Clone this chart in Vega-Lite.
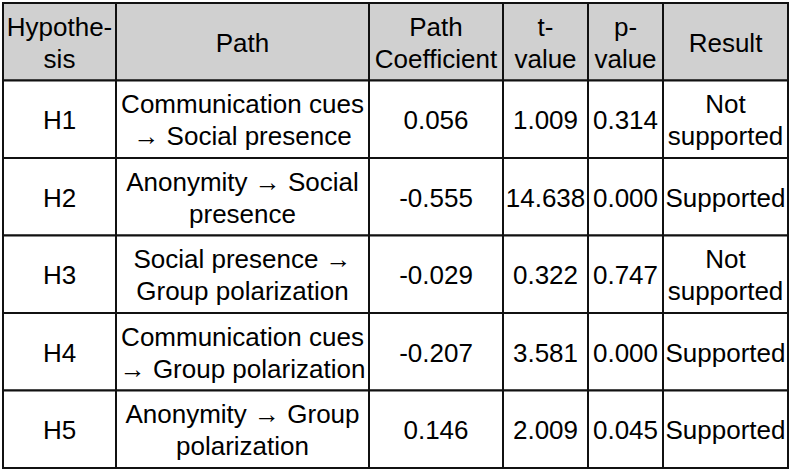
{
  "$schema": "https://vega.github.io/schema/vega-lite/v6.json",
  "padding": {"left": 2, "top": 2, "right": 0, "bottom": 0},
  "background": "white",
  "spacing": 0,
  "bounds": "flush",
  "datasets": {
    "cells": [
      {"row": 0, "col": "hyp", "kind": "header", "l1": "Hypothe-", "l2": "sis"},
      {"row": 0, "col": "path", "kind": "header", "l1": "Path", "l2": null},
      {"row": 0, "col": "coef", "kind": "header", "l1": "Path", "l2": "Coefficient"},
      {"row": 0, "col": "t", "kind": "header", "l1": "t-", "l2": "value"},
      {"row": 0, "col": "p", "kind": "header", "l1": "p-", "l2": "value"},
      {"row": 0, "col": "result", "kind": "header", "l1": "Result", "l2": null},

      {"row": 1, "col": "hyp", "kind": "body", "l1": "H1", "l2": null},
      {"row": 1, "col": "path", "kind": "body", "l1": "Communication  cues", "l2": "→  Social  presence"},
      {"row": 1, "col": "coef", "kind": "body", "l1": "0.056", "l2": null},
      {"row": 1, "col": "t", "kind": "body", "l1": "1.009", "l2": null},
      {"row": 1, "col": "p", "kind": "body", "l1": "0.314", "l2": null},
      {"row": 1, "col": "result", "kind": "body", "l1": "Not", "l2": "supported"},

      {"row": 2, "col": "hyp", "kind": "body", "l1": "H2", "l2": null},
      {"row": 2, "col": "path", "kind": "body", "l1": "Anonymity  →  Social", "l2": "presence"},
      {"row": 2, "col": "coef", "kind": "body", "l1": "-0.555", "l2": null},
      {"row": 2, "col": "t", "kind": "body", "l1": "14.638", "l2": null},
      {"row": 2, "col": "p", "kind": "body", "l1": "0.000", "l2": null},
      {"row": 2, "col": "result", "kind": "body", "l1": "Supported", "l2": null},

      {"row": 3, "col": "hyp", "kind": "body", "l1": "H3", "l2": null},
      {"row": 3, "col": "path", "kind": "body", "l1": "Social  presence  →", "l2": "Group  polarization"},
      {"row": 3, "col": "coef", "kind": "body", "l1": "-0.029", "l2": null},
      {"row": 3, "col": "t", "kind": "body", "l1": "0.322", "l2": null},
      {"row": 3, "col": "p", "kind": "body", "l1": "0.747", "l2": null},
      {"row": 3, "col": "result", "kind": "body", "l1": "Not", "l2": "supported"},

      {"row": 4, "col": "hyp", "kind": "body", "l1": "H4", "l2": null},
      {"row": 4, "col": "path", "kind": "body", "l1": "Communication  cues", "l2": "→  Group  polarization"},
      {"row": 4, "col": "coef", "kind": "body", "l1": "-0.207", "l2": null},
      {"row": 4, "col": "t", "kind": "body", "l1": "3.581", "l2": null},
      {"row": 4, "col": "p", "kind": "body", "l1": "0.000", "l2": null},
      {"row": 4, "col": "result", "kind": "body", "l1": "Supported", "l2": null},

      {"row": 5, "col": "hyp", "kind": "body", "l1": "H5", "l2": null},
      {"row": 5, "col": "path", "kind": "body", "l1": "Anonymity  →  Group", "l2": "polarization"},
      {"row": 5, "col": "coef", "kind": "body", "l1": "0.146", "l2": null},
      {"row": 5, "col": "t", "kind": "body", "l1": "2.009", "l2": null},
      {"row": 5, "col": "p", "kind": "body", "l1": "0.045", "l2": null},
      {"row": 5, "col": "result", "kind": "body", "l1": "Supported", "l2": null}
    ]
  },
  "data": {"name": "cells"},
  "config": {
    "view": {"stroke": null},
    "concat": {"spacing": 0},
    "text": {"font": "Liberation Sans", "fontSize": 26, "lineHeight": 32, "color": "#000000", "dy": 2}
  },
  "hconcat": [
    {
      "width": 113, "height": 465,
      "transform": [{"filter": "datum.col === 'hyp'"}],
      "layer": [
        {"mark": {"type": "rect", "stroke": "#111111", "strokeWidth": 2},
         "encoding": {"y": {"field": "row", "type": "ordinal", "axis": null, "scale": {"paddingInner": 0, "paddingOuter": 0}},
                      "fill": {"field": "kind", "type": "nominal", "scale": {"domain": ["header", "body"], "range": ["#d0d0d0", "#ffffff"]}, "legend": null}}},
        {"transform": [{"filter": "!isValid(datum.l2)"}], "mark": {"type": "text", "baseline": "middle"},
         "encoding": {"y": {"field": "row", "type": "ordinal", "axis": null}, "text": {"field": "l1", "type": "nominal"}}},
        {"transform": [{"filter": "isValid(datum.l2)"}], "mark": {"type": "text", "baseline": "line-bottom"},
         "encoding": {"y": {"field": "row", "type": "ordinal", "axis": null}, "text": {"field": "l1", "type": "nominal"}}},
        {"transform": [{"filter": "isValid(datum.l2)"}], "mark": {"type": "text", "baseline": "line-top"},
         "encoding": {"y": {"field": "row", "type": "ordinal", "axis": null}, "text": {"field": "l2", "type": "nominal"}}}
      ]
    },
    {
      "width": 253, "height": 465,
      "transform": [{"filter": "datum.col === 'path'"}],
      "layer": [
        {"mark": {"type": "rect", "stroke": "#111111", "strokeWidth": 2},
         "encoding": {"y": {"field": "row", "type": "ordinal", "axis": null, "scale": {"paddingInner": 0, "paddingOuter": 0}},
                      "fill": {"field": "kind", "type": "nominal", "scale": {"domain": ["header", "body"], "range": ["#d0d0d0", "#ffffff"]}, "legend": null}}},
        {"transform": [{"filter": "!isValid(datum.l2)"}], "mark": {"type": "text", "baseline": "middle"},
         "encoding": {"y": {"field": "row", "type": "ordinal", "axis": null}, "text": {"field": "l1", "type": "nominal"}}},
        {"transform": [{"filter": "isValid(datum.l2)"}], "mark": {"type": "text", "baseline": "line-bottom"},
         "encoding": {"y": {"field": "row", "type": "ordinal", "axis": null}, "text": {"field": "l1", "type": "nominal"}}},
        {"transform": [{"filter": "isValid(datum.l2)"}], "mark": {"type": "text", "baseline": "line-top"},
         "encoding": {"y": {"field": "row", "type": "ordinal", "axis": null}, "text": {"field": "l2", "type": "nominal"}}}
      ]
    },
    {
      "width": 134, "height": 465,
      "transform": [{"filter": "datum.col === 'coef'"}],
      "layer": [
        {"mark": {"type": "rect", "stroke": "#111111", "strokeWidth": 2},
         "encoding": {"y": {"field": "row", "type": "ordinal", "axis": null, "scale": {"paddingInner": 0, "paddingOuter": 0}},
                      "fill": {"field": "kind", "type": "nominal", "scale": {"domain": ["header", "body"], "range": ["#d0d0d0", "#ffffff"]}, "legend": null}}},
        {"transform": [{"filter": "!isValid(datum.l2)"}], "mark": {"type": "text", "baseline": "middle"},
         "encoding": {"y": {"field": "row", "type": "ordinal", "axis": null}, "text": {"field": "l1", "type": "nominal"}}},
        {"transform": [{"filter": "isValid(datum.l2)"}], "mark": {"type": "text", "baseline": "line-bottom"},
         "encoding": {"y": {"field": "row", "type": "ordinal", "axis": null}, "text": {"field": "l1", "type": "nominal"}}},
        {"transform": [{"filter": "isValid(datum.l2)"}], "mark": {"type": "text", "baseline": "line-top"},
         "encoding": {"y": {"field": "row", "type": "ordinal", "axis": null}, "text": {"field": "l2", "type": "nominal"}}}
      ]
    },
    {
      "width": 85, "height": 465,
      "transform": [{"filter": "datum.col === 't'"}],
      "layer": [
        {"mark": {"type": "rect", "stroke": "#111111", "strokeWidth": 2},
         "encoding": {"y": {"field": "row", "type": "ordinal", "axis": null, "scale": {"paddingInner": 0, "paddingOuter": 0}},
                      "fill": {"field": "kind", "type": "nominal", "scale": {"domain": ["header", "body"], "range": ["#d0d0d0", "#ffffff"]}, "legend": null}}},
        {"transform": [{"filter": "!isValid(datum.l2)"}], "mark": {"type": "text", "baseline": "middle"},
         "encoding": {"y": {"field": "row", "type": "ordinal", "axis": null}, "text": {"field": "l1", "type": "nominal"}}},
        {"transform": [{"filter": "isValid(datum.l2)"}], "mark": {"type": "text", "baseline": "line-bottom"},
         "encoding": {"y": {"field": "row", "type": "ordinal", "axis": null}, "text": {"field": "l1", "type": "nominal"}}},
        {"transform": [{"filter": "isValid(datum.l2)"}], "mark": {"type": "text", "baseline": "line-top"},
         "encoding": {"y": {"field": "row", "type": "ordinal", "axis": null}, "text": {"field": "l2", "type": "nominal"}}}
      ]
    },
    {
      "width": 75, "height": 465,
      "transform": [{"filter": "datum.col === 'p'"}],
      "layer": [
        {"mark": {"type": "rect", "stroke": "#111111", "strokeWidth": 2},
         "encoding": {"y": {"field": "row", "type": "ordinal", "axis": null, "scale": {"paddingInner": 0, "paddingOuter": 0}},
                      "fill": {"field": "kind", "type": "nominal", "scale": {"domain": ["header", "body"], "range": ["#d0d0d0", "#ffffff"]}, "legend": null}}},
        {"transform": [{"filter": "!isValid(datum.l2)"}], "mark": {"type": "text", "baseline": "middle"},
         "encoding": {"y": {"field": "row", "type": "ordinal", "axis": null}, "text": {"field": "l1", "type": "nominal"}}},
        {"transform": [{"filter": "isValid(datum.l2)"}], "mark": {"type": "text", "baseline": "line-bottom"},
         "encoding": {"y": {"field": "row", "type": "ordinal", "axis": null}, "text": {"field": "l1", "type": "nominal"}}},
        {"transform": [{"filter": "isValid(datum.l2)"}], "mark": {"type": "text", "baseline": "line-top"},
         "encoding": {"y": {"field": "row", "type": "ordinal", "axis": null}, "text": {"field": "l2", "type": "nominal"}}}
      ]
    },
    {
      "width": 125, "height": 465,
      "transform": [{"filter": "datum.col === 'result'"}],
      "layer": [
        {"mark": {"type": "rect", "stroke": "#111111", "strokeWidth": 2},
         "encoding": {"y": {"field": "row", "type": "ordinal", "axis": null, "scale": {"paddingInner": 0, "paddingOuter": 0}},
                      "fill": {"field": "kind", "type": "nominal", "scale": {"domain": ["header", "body"], "range": ["#d0d0d0", "#ffffff"]}, "legend": null}}},
        {"transform": [{"filter": "!isValid(datum.l2)"}], "mark": {"type": "text", "baseline": "middle"},
         "encoding": {"y": {"field": "row", "type": "ordinal", "axis": null}, "text": {"field": "l1", "type": "nominal"}}},
        {"transform": [{"filter": "isValid(datum.l2)"}], "mark": {"type": "text", "baseline": "line-bottom"},
         "encoding": {"y": {"field": "row", "type": "ordinal", "axis": null}, "text": {"field": "l1", "type": "nominal"}}},
        {"transform": [{"filter": "isValid(datum.l2)"}], "mark": {"type": "text", "baseline": "line-top"},
         "encoding": {"y": {"field": "row", "type": "ordinal", "axis": null}, "text": {"field": "l2", "type": "nominal"}}}
      ]
    }
  ]
}
